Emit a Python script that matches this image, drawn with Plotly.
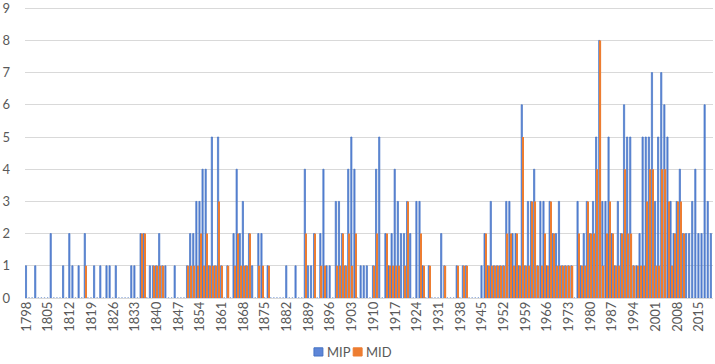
import plotly.graph_objects as go

years = list(range(1798, 2020))
tick_years = list(range(1798, 2020, 7))
tick_labels = [str(y) for y in tick_years]
series_names = ["MIP", "MID"]

mip = [
    1, 0,                          # 1798-1799
    0, 1, 0, 0, 0, 0, 2, 0, 0, 0,  # 1800s
    1, 0, 2, 1, 0, 1, 0, 2, 0, 0,  # 1810s
    1, 0, 1, 0, 1, 1, 0, 1, 0, 0,  # 1820s
    0, 0, 1, 1, 0, 2, 2, 0, 1, 1,  # 1830s
    1, 2, 1, 1, 0, 0, 1, 0, 0, 0,  # 1840s
    1, 2, 2, 3, 3, 4, 4, 1, 5, 1,  # 1850s
    5, 1, 0, 1, 0, 2, 4, 2, 3, 1,  # 1860s
    2, 1, 0, 2, 2, 0, 1, 0, 0, 0,  # 1870s
    0, 0, 1, 0, 0, 1, 0, 0, 4, 1,  # 1880s
    1, 2, 0, 2, 4, 1, 1, 0, 3, 3,  # 1890s
    2, 1, 4, 5, 4, 0, 1, 1, 1, 0,  # 1900s
    1, 4, 5, 0, 2, 1, 2, 4, 3, 2,  # 1910s
    2, 3, 2, 0, 3, 3, 1, 0, 1, 0,  # 1920s
    0, 0, 2, 1, 0, 0, 0, 1, 0, 1,  # 1930s
    1, 0, 0, 0, 0, 1, 2, 1, 3, 1,  # 1940s
    1, 1, 1, 3, 3, 2, 2, 1, 6, 1,  # 1950s
    3, 3, 4, 1, 3, 3, 1, 3, 2, 2,  # 1960s
    3, 1, 1, 1, 1, 0, 3, 1, 2, 3,  # 1970s
    2, 3, 5, 8, 3, 3, 5, 2, 1, 3,  # 1980s
    2, 6, 5, 5, 1, 1, 2, 5, 5, 5,  # 1990s
    7, 3, 5, 7, 6, 5, 3, 2, 3, 4,  # 2000s
    2, 2, 2, 3, 4, 2, 2, 6, 3, 2,  # 2010s
]

mid = [
    0, 0,                          # 1798-1799
    0, 0, 0, 0, 0, 0, 0, 0, 0, 0,  # 1800s
    0, 0, 0, 0, 0, 0, 0, 1, 0, 0,  # 1810s
    0, 0, 0, 0, 0, 0, 0, 0, 0, 0,  # 1820s
    0, 0, 0, 0, 0, 2, 2, 0, 0, 1,  # 1830s
    1, 1, 1, 0, 0, 0, 0, 0, 0, 0,  # 1840s
    1, 1, 1, 1, 2, 1, 2, 1, 1, 1,  # 1850s
    3, 1, 0, 1, 0, 1, 2, 1, 1, 1,  # 1860s
    2, 0, 0, 1, 1, 0, 1, 0, 0, 0,  # 1870s
    0, 0, 0, 0, 0, 0, 0, 0, 2, 0,  # 1880s
    0, 2, 0, 1, 1, 0, 0, 0, 1, 1,  # 1890s
    2, 1, 2, 1, 2, 0, 0, 0, 0, 0,  # 1900s
    1, 2, 0, 0, 2, 1, 1, 1, 1, 0,  # 1910s
    1, 3, 0, 0, 0, 2, 1, 0, 1, 0,  # 1920s
    0, 0, 0, 1, 0, 0, 0, 1, 0, 1,  # 1930s
    1, 0, 0, 0, 0, 0, 2, 1, 1, 1,  # 1940s
    1, 1, 1, 2, 2, 1, 2, 1, 5, 1,  # 1950s
    1, 3, 3, 1, 1, 2, 1, 3, 2, 1,  # 1960s
    1, 1, 1, 1, 1, 0, 2, 1, 1, 3,  # 1970s
    2, 2, 4, 8, 1, 2, 3, 2, 1, 1,  # 1980s
    2, 4, 2, 2, 1, 1, 1, 1, 3, 4,  # 1990s
    4, 1, 1, 4, 4, 3, 1, 2, 3, 3,  # 2000s
    2, 0, 0, 0, 0, 0, 0, 0, 0, 0,  # 2010s
]

FONT = "Lato"
GREY = "#595959"
BLUE_FILL = "#5E86D8"
BLUE_LINE = "#4472C4"
ORANGE = "#ED7D31"

fig = go.Figure()
fig.add_bar(x=years, y=mip, name=series_names[0],
            marker=dict(color=BLUE_FILL, line=dict(color=BLUE_LINE, width=0.7)))
fig.add_bar(x=years, y=mid, name=series_names[1],
            marker=dict(color=ORANGE, line=dict(width=0)))

# custom legend (swatch + real text) placed like the reference
leg_y = -0.184
for xs, name, fill, line in [(0.420, series_names[0], BLUE_FILL, BLUE_LINE),
                             (0.477, series_names[1], ORANGE, ORANGE)]:
    fig.add_shape(type="rect", xref="paper", yref="paper",
                  x0=xs, x1=xs + 0.013, y0=leg_y - 0.014, y1=leg_y + 0.014,
                  fillcolor=fill, line=dict(color=line, width=1))
    fig.add_annotation(xref="paper", yref="paper", x=xs + 0.016, y=leg_y,
                       text=name, showarrow=False, xanchor="left", yanchor="middle",
                       font=dict(size=13, color=GREY, family=FONT))

fig.update_layout(
    width=715, height=364,
    margin=dict(l=25, r=2, t=5, b=66, autoexpand=False),
    barmode="group", bargap=0.2, bargroupgap=0,
    plot_bgcolor="white", paper_bgcolor="white",
    font=dict(family=FONT, color=GREY, size=13),
    showlegend=False,
)
fig.update_xaxes(range=[1797.5, 2019.5], tickmode="array", tickvals=tick_years,
                 ticktext=tick_labels, tickangle=-90, showgrid=False,
                 showline=False, zeroline=False, ticks="", ticklabeloverflow="allow",
                 tickfont=dict(size=13, color=GREY, family=FONT))
fig.update_yaxes(range=[0, 9.1], tickmode="array", tickvals=list(range(0, 10)),
                 showgrid=True, gridcolor="#D9D9D9", gridwidth=1,
                 zeroline=True, zerolinecolor="#D9D9D9", zerolinewidth=1,
                 showline=False, ticks="", ticklabelstandoff=14, ticklabeloverflow="allow",
                 tickfont=dict(size=13, color=GREY, family=FONT))

fig.write_html("out.html", config={"displayModeBar": False},
               post_script="document.body.style.margin='0';")
